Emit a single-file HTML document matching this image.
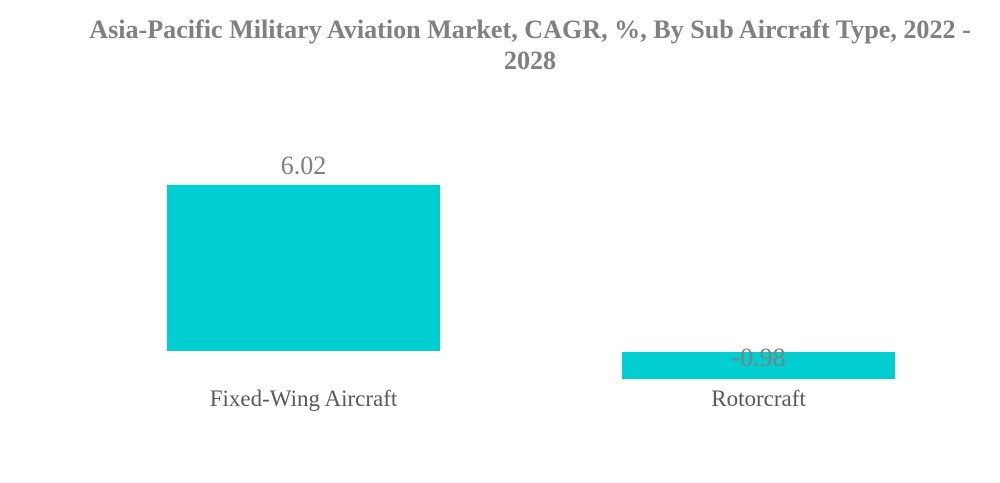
<!DOCTYPE html>
<html><head><meta charset="utf-8"><style>
body{margin:0;background:#fff;}
svg{display:block;}
</style></head><body>
<svg width="1000" height="483">
<text x="530" y="38" text-anchor="middle" font-family="Liberation Serif, serif" font-weight="bold" font-size="26.1" fill="#808080">Asia-Pacific Military Aviation Market, CAGR, %, By Sub Aircraft Type, 2022 -</text>
<text x="530" y="69" text-anchor="middle" font-family="Liberation Serif, serif" font-weight="bold" font-size="26.1" fill="#808080">2028</text>
<g id="bars"></g>
</svg>
<script>
const categories=["Fixed-Wing Aircraft","Rotorcraft"];
const values=[6.02,-0.98];
const valueLabels=["6.02","-0.98"];
const zeroY=351, pxPerUnit=27.6;
function yScale(v){return zeroY-v*pxPerUnit;}
const bw=273;
const g=document.getElementById('bars');
const ns='http://www.w3.org/2000/svg';
categories.forEach((c,i)=>{
  const v=values[i];
  const x=167+i*455;
  const y0=yScale(Math.max(v,0)), y1=yScale(Math.min(v,0));
  const r=document.createElementNS(ns,'rect');
  r.setAttribute('x',x);r.setAttribute('y',y0+(v<0?1:0));r.setAttribute('width',bw);r.setAttribute('height',y1-y0);
  r.setAttribute('fill','#00CED1');
  
  
  g.appendChild(r);
  const t=document.createElementNS(ns,'text');
  t.setAttribute('x',x+bw/2);
  t.setAttribute('y',v>=0?y0-11:yScale(0)+15);
  t.setAttribute('text-anchor','middle');t.setAttribute('font-family','Liberation Serif, serif');
  t.setAttribute('font-size','26');t.setAttribute('fill','#808080');
  t.textContent=valueLabels[i];
  
  
  g.appendChild(t);
  const l=document.createElementNS(ns,'text');
  l.setAttribute('x',x+bw/2);l.setAttribute('y',406);
  l.setAttribute('text-anchor','middle');l.setAttribute('font-family','Liberation Serif, serif');
  l.setAttribute('font-size','23');l.setAttribute('fill','#595959');
  l.textContent=c;
  
  
  g.appendChild(l);
});
</script>
</body></html>
